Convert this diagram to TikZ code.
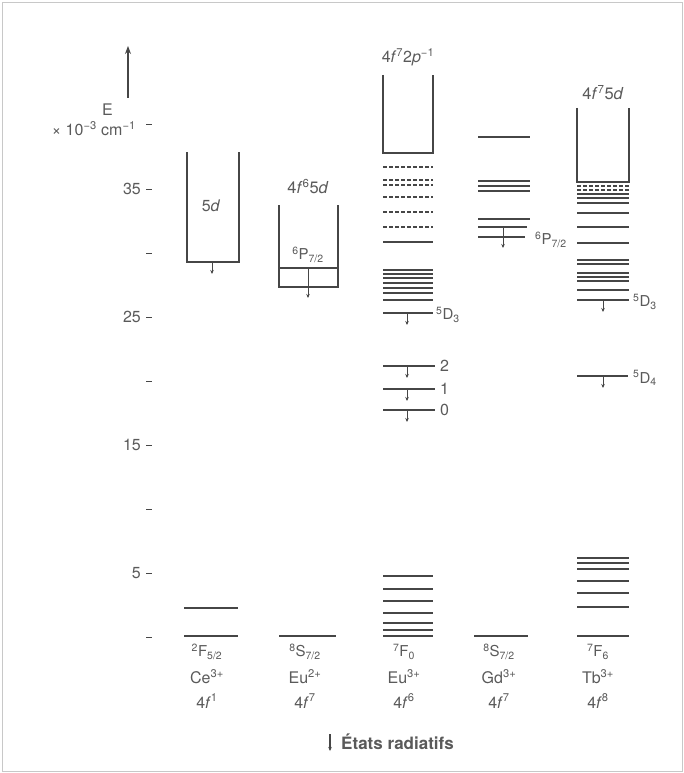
\documentclass[tikz,border=0pt]{standalone}
\usepackage{fontspec}
\setmainfont{TeX Gyre Heros}
\usetikzlibrary{arrows.meta,positioning}
\definecolor{inkgray}{RGB}{70,70,70}
\definecolor{textgray}{RGB}{90,90,90}
\definecolor{framegray}{RGB}{200,200,200}

\begin{document}
\begin{tikzpicture}[x=1pt, y=-1pt,
    box/.style={draw=inkgray, line width=1.7pt},
    level/.style={draw=inkgray, line width=1.2pt},
    dlevel/.style={level, dash pattern=on 4pt off 2pt},
    lbl/.style={text=textgray, inner sep=0pt, font=\fontsize{16}{18}\selectfont},
    term/.style={lbl, font=\fontsize{15}{17}\selectfont},
    decay/.style={-{Stealth[length=4pt, width=3.5pt]}, draw=inkgray, line width=0.8pt},
    tick/.style={draw=inkgray, line width=1pt}
]
\useasboundingbox (0,0) rectangle (684,773);
\draw[framegray, line width=0.8pt] (2,2) rectangle (682,771);

% energy axis
\coordinate (axfoot) at (128,98);
\coordinate (axhead) at (128,46);
\draw[-{Stealth[length=8pt, width=6pt]}, inkgray, line width=1.2pt] (axfoot) -- (axhead);
\foreach \e in {0,5,...,40}
  \draw[tick] (146,{637-12.8*\e}) -- (152,{637-12.8*\e});
\foreach \e in {5,15,25,35}
  \node[lbl, anchor=east] (ax\e) at (141,{637-12.8*\e}) {\e};
\node[lbl, anchor=west] (unit) at (101,129) {cm\textsuperscript{−1}};
\node[lbl, anchor=base west] (enlbl) at (102,116) {E};
\node[lbl, anchor=east] (scale) at (97,129) {× 10\textsuperscript{−3}};

% Ce3+
\draw[box] (187,152) |- (239,262) -- (239,152);
\node[lbl] (ce5d) at (211,206) {5\textit{d}};
\coordinate (cedec) at (212,262);
\draw[decay] (cedec) -- ++(0,12);
\foreach \y in {608,636}
  \draw[level] (184,\y) -- (238,\y);

% Eu2+
\draw[box] (279,205) |- (338,287) -- (338,205);
\node[lbl, anchor=south, font=\fontsize{16.5}{18}\selectfont] (eu2top) at (308,194) {4\textit{f}\textsuperscript{6}5\textit{d}};
\draw[level] (279,268) -- (338,268);
\node[term] (eu2p) at (308,255) {\textsuperscript{6}P\textsubscript{7/2}};
\coordinate (eu2dec) at (308,268);
\draw[decay] (eu2dec) -- ++(0,30);
\draw[level, line width=1.8pt] (279,636) -- (336,636);

% Eu3+
\draw[box] (383,75) |- (433,153) -- (433,75);
\node[lbl, anchor=south] (eu3top) at (408,66) {4\textit{f}\textsuperscript{7}2\textit{p}\textsuperscript{−1}};
\foreach \y in {167,180,185,197,212,227}
  \draw[dlevel] (383,\y) -- (433,\y);
\foreach \y in {242,270,274,278,283,288,293,300,313,576,589,601,613,623,630,636}
  \draw[level] (383,\y) -- (433,\y);
\foreach \y/\t in {366/2,389/1,410/0}{
  \draw[level] (383,\y) -- (435,\y);
  \node[lbl, anchor=west] at (440,\y) {\t};
  \draw[decay] (407,\y) -- ++(0,12);
}
\node[term, anchor=west] (eu3d3) at (436,315) {\textsuperscript{5}D\textsubscript{3}};
\coordinate (eu3dec) at (407,313);
\draw[decay] (eu3dec) -- ++(0,12);

% Gd3+
\foreach \y in {137,181,186,191,219}
  \draw[level] (478,\y) -- (530,\y);
\draw[level] (478,227) -- (527,227);
\draw[level] (478,237) -- (525,237);
\node[term, anchor=west] (gdp) at (535,240) {\textsuperscript{6}P\textsubscript{7/2}};
\coordinate (gddec) at (503,227);
\draw[decay] (gddec) -- ++(0,21);
\draw[level] (474,636) -- (528,636);

% Tb3+
\draw[box] (577,108) |- (629,182) -- (629,108);
\node[lbl, anchor=south, font=\fontsize{16.5}{18}\selectfont] (tbtop) at (603,100) {4\textit{f}\textsuperscript{7}5\textit{d}};
\foreach \y in {186,190}
  \draw[dlevel] (577,\y) -- (629,\y);
\foreach \y in {194,198,203,213,227,243,260,264,273,277,281,290,300,558,563,569,581,593,607,636}
  \draw[level] (577,\y) -- (629,\y);
\node[term, anchor=west] (tbd3) at (633,302) {\textsuperscript{5}D\textsubscript{3}};
\coordinate (tbdec) at (603,300);
\draw[decay] (tbdec) -- ++(0,12);
\draw[level] (577,376) -- (628,376);
\node[term, anchor=west] (tbd4) at (633,378) {\textsuperscript{5}D\textsubscript{4}};
\coordinate (tbdecb) at (603,376);
\draw[decay] (tbdecb) -- ++(0,12);

% ground terms and configurations
\foreach \x/\s/\i/\c in {
    207/{\textsuperscript{2}F\textsubscript{5/2}}/{Ce\textsuperscript{3+}}/{4\textit{f}\textsuperscript{1}},
    305/{\textsuperscript{8}S\textsubscript{7/2}}/{Eu\textsuperscript{2+}}/{4\textit{f}\textsuperscript{7}},
    404/{\textsuperscript{7}F\textsubscript{0}}/{Eu\textsuperscript{3+}}/{4\textit{f}\textsuperscript{6}},
    499/{\textsuperscript{8}S\textsubscript{7/2}}/{Gd\textsuperscript{3+}}/{4\textit{f}\textsuperscript{7}},
    598/{\textsuperscript{7}F\textsubscript{6}}/{Tb\textsuperscript{3+}}/{4\textit{f}\textsuperscript{8}}}{
  \node[term] at (\x,652) {\s};
  \node[lbl] at (\x,677) {\i};
  \node[lbl] at (\x,701) {\c};
}

% legend
\coordinate (legtop) at (330,734);
\coordinate (legbot) at (330,751);
\draw[decay, line width=1.3pt] (legtop) -- (legbot);
\node[lbl, anchor=west, font=\fontsize{17}{19}\selectfont\bfseries] (legend) at (341,742) {États radiatifs};
\end{tikzpicture}
\end{document}
